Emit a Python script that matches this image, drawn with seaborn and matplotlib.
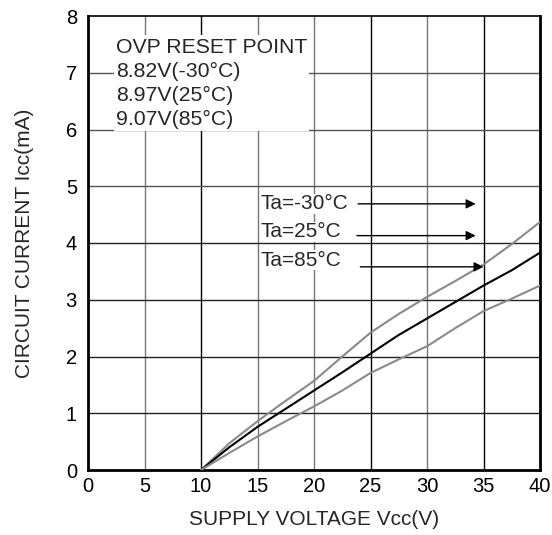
import pandas as pd
import seaborn as sns
import matplotlib.pyplot as plt

# Supply voltage points (V) and circuit current (mA) per ambient temperature
VCC = [10, 12.5, 15, 17.5, 20, 22.5, 25, 27.5, 30, 32.5, 35, 37.5, 40]
ICC_M30 = [0.0, 0.47, 0.86, 1.22, 1.57, 2.0, 2.42, 2.75, 3.05, 3.33, 3.62, 3.98, 4.37]
ICC_25 = [0.0, 0.40, 0.76, 1.08, 1.40, 1.72, 2.05, 2.38, 2.67, 2.96, 3.25, 3.52, 3.83]
ICC_85 = [0.0, 0.30, 0.59, 0.86, 1.12, 1.40, 1.71, 1.95, 2.18, 2.50, 2.80, 3.02, 3.25]
SERIES = ["Ta=-30°C", "Ta=25°C", "Ta=85°C"]
COLORS = ["#8a8a8a", "#000000", "#8a8a8a"]

OVP_TEXT = ["OVP RESET POINT", "8.82V(-30°C)", "8.97V(25°C)", "9.07V(85°C)"]
X_TICKS = [0, 5, 10, 15, 20, 25, 30, 35, 40]
Y_TICKS = [0, 1, 2, 3, 4, 5, 6, 7, 8]

FS = 15


def build_frame():
    rows = []
    for name, vals in zip(SERIES, [ICC_M30, ICC_25, ICC_85]):
        for v, i in zip(VCC, vals):
            rows.append({"vcc": v, "icc": i, "ta": name})
    return pd.DataFrame(rows)


def main():
    sns.set_theme(style="white")
    plt.rcParams["font.family"] = ["Liberation Sans", "DejaVu Sans"]

    fig = plt.figure(figsize=(5.52, 5.35), dpi=100)
    ax = fig.add_axes([88 / 552, 1 - 470 / 535, 452 / 552, 454 / 535])

    # grid lines, alternating grey / black like the datasheet scan
    for x in X_TICKS[1:-1]:
        ax.axvline(x, color="#000000" if x in (10, 25, 35) else "#777777", lw=1.0, zorder=0)
    for y in Y_TICKS[1:-1]:
        ax.axhline(y, color="#222222" if y < 5 else "#555555", lw=1.0, zorder=0)

    df = build_frame()
    sns.lineplot(data=df, x="vcc", y="icc", hue="ta", palette=dict(zip(SERIES, COLORS)),
                 linewidth=1.5, legend=False, ax=ax, zorder=3)

    ax.set_xlim(0, 40)
    ax.set_ylim(0, 8)
    ax.set_xticks(X_TICKS)
    ax.set_yticks(Y_TICKS)
    ax.tick_params(axis="x", length=0, labelsize=14.5, colors="black", pad=5)
    ax.tick_params(axis="y", length=0, labelsize=14.5, colors="black", pad=8)
    ax.set_xlabel("SUPPLY VOLTAGE Vcc(V)", fontsize=FS, labelpad=10)
    ax.set_ylabel("CIRCUIT CURRENT Icc(mA)", fontsize=FS, labelpad=23)

    for side in ["left", "bottom", "right"]:
        ax.spines[side].set_linewidth(2.0)
        ax.spines[side].set_color("black")
    ax.spines["top"].set_linewidth(1.2)
    ax.spines["top"].set_color("black")

    # OVP reset point note (one white block)
    ax.text(2.45, 7.62, "\n".join(OVP_TEXT), fontsize=15.3, va="top", ha="left",
            linespacing=1.34, bbox=dict(facecolor="white", edgecolor="none", pad=1.5),
            zorder=4)

    # temperature labels with arrows
    box = dict(facecolor="white", edgecolor="none", pad=0.5)
    label_y = [4.69, 4.2, 3.7]
    arrow_y = [4.69, 4.13, 3.58]
    arrow_x0 = [23.9, 23.8, 24.1]
    arrow_x1 = [34.3, 34.3, 35.0]
    for name, ty, ay, x0, x1 in zip(SERIES, label_y, arrow_y, arrow_x0, arrow_x1):
        ax.text(15.25, ty, name, fontsize=FS, va="center", ha="left", bbox=box, zorder=4)
        ax.annotate("", xy=(x1, ay), xytext=(x0, ay),
                    arrowprops=dict(arrowstyle="-|>", color="black", lw=1.0,
                                    mutation_scale=14, shrinkA=0, shrinkB=0),
                    zorder=5)

    fig.savefig("out.png", dpi=100)


if __name__ == "__main__":
    main()
